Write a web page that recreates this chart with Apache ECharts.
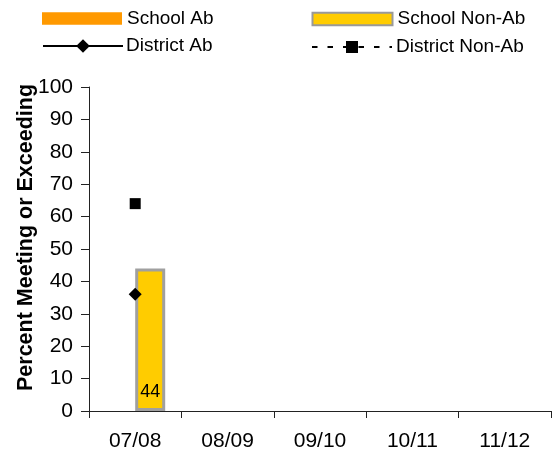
<!DOCTYPE html>
<html><head><meta charset="utf-8">
<script src="https://cdn.jsdelivr.net/npm/echarts@6/dist/echarts.min.js"></script>
<style>html,body{margin:0;padding:0;background:#fff}#c{width:559px;height:456px}</style>
</head><body><div id="c"></div>
<script>
var categories = ['07/08','08/09','09/10','10/11','11/12'];
var schoolAb = ['-','-','-','-','-'];
var schoolNonAb = [44,'-','-','-','-'];
var districtAb = [36,'-','-','-','-'];
var districtNonAb = [64,'-','-','-','-'];
var yTicks = [0,10,20,30,40,50,60,70,80,90,100];
var yTitle = 'Percent Meeting or Exceeding';

var FONT = 'Liberation Sans, Arial, sans-serif';
var chart = echarts.init(document.getElementById('c'), null, {renderer:'canvas'});
function leg(item, left, top, h, gap){
  return {data:[item], left:left, top:top, itemWidth:80, itemHeight:h, itemGap:0, padding:0,
    lineStyle:{width:2},
    textStyle:{fontFamily:FONT, fontSize:19, color:'#000', padding:[0,0,0,gap-5]}, selectedMode:false};
}
chart.setOption({
  animation:false,
  legend:[
    leg({name:'School Ab', icon:'rect'}, 42, 9, 12.5, 5),
    leg({name:'School Non-Ab', icon:'rect', itemStyle:{borderWidth:2, borderColor:'#999999'}}, 311.5, 9.5, 12.5, 5),
    leg({name:'District Ab'}, 42, 36.5, 17, 3),
    leg({name:'District Non-Ab'}, 311, 37.5, 15, 4)
  ],
  grid:{left:89, right:8, top:87, bottom:45, containLabel:false, outerBoundsMode:'none'},
  xAxis:{type:'category', data:categories, boundaryGap:true,
    axisLine:{lineStyle:{color:'#222', width:1}},
    axisTick:{show:true, length:7, alignWithLabel:false, lineStyle:{color:'#222'}},
    axisLabel:{fontFamily:FONT, fontSize:21, color:'#000', margin:20}},
  yAxis:{type:'value', min:yTicks[0], max:yTicks[yTicks.length-1], interval:10,
    name:yTitle, nameLocation:'middle', nameGap:52, nameRotate:90, nameMoveOverlap:false,
    nameTextStyle:{fontFamily:FONT, fontSize:21.5, fontWeight:'bold', color:'#000', padding:[0,0,0,23]},
    splitLine:{show:false},
    axisLine:{show:true, lineStyle:{color:'#222', width:1}},
    axisTick:{show:true, length:8, lineStyle:{color:'#222'}},
    axisLabel:{fontFamily:FONT, fontSize:21, color:'#000', margin:16}},
  series:[
    {name:'School Ab', type:'bar', data:schoolAb, barWidth:30, barGap:'0%',
      itemStyle:{color:'#FF9900'}},
    {name:'School Non-Ab', type:'bar', data:schoolNonAb, barWidth:30, barGap:'0%',
      itemStyle:{color:'#FFCC00', borderColor:'#A0A0A0', borderWidth:3},
      label:{show:true, position:'insideBottom', distance:10, fontFamily:FONT, fontSize:18, color:'#000'}},
    {name:'District Ab', type:'line', data:districtAb, symbol:'diamond', symbolSize:13,
      itemStyle:{color:'#000'}, lineStyle:{color:'#000', width:2}, z:5},
    {name:'District Non-Ab', type:'line', data:districtNonAb, symbol:'rect', symbolSize:11,
      itemStyle:{color:'#000'}, lineStyle:{color:'#000', width:2, type:[5.5,10]}, z:5}
  ]
});
</script></body></html>
